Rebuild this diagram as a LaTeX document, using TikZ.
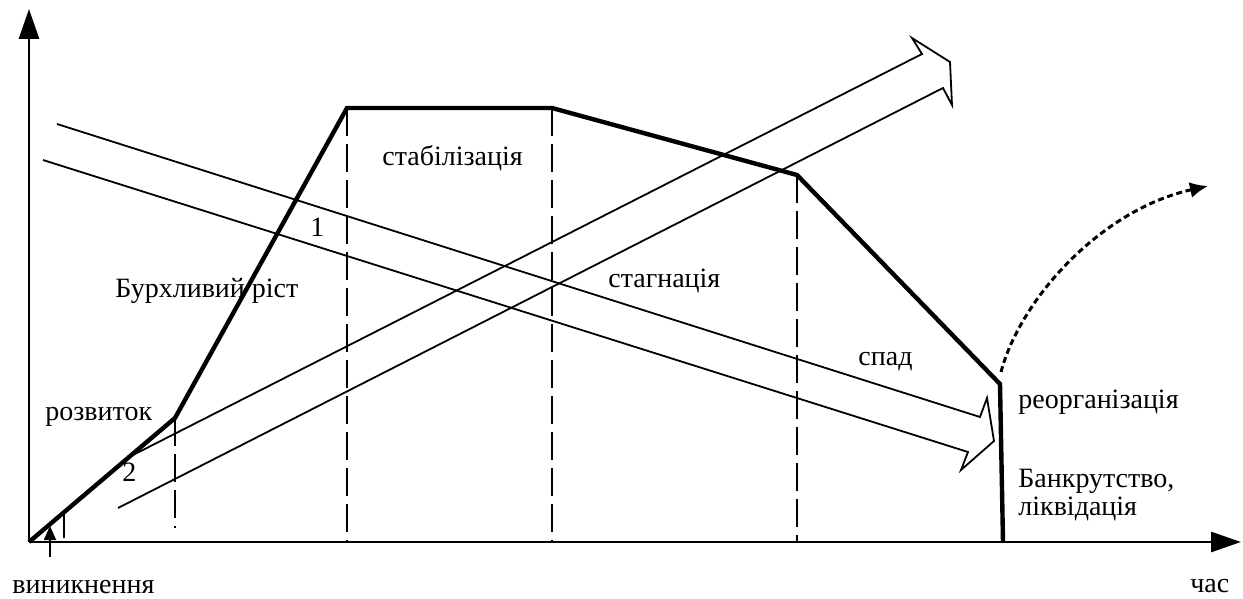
\documentclass[tikz,border=0pt]{standalone}
\usepackage{fontspec}
\setmainfont{Liberation Serif}
\usetikzlibrary{arrows.meta}
\begin{document}
\begin{tikzpicture}[x=0.5pt,y=-0.5pt,
  lifecurve/.style={line width=2.2pt, line join=miter, line cap=butt},
  axisline/.style={line width=1.4pt,-{Triangle[length=15pt,width=10pt]}},
  thinline/.style={line width=0.9pt, line join=miter},
  guide/.style={line width=0.8pt, dash pattern=on 14pt off 4pt},
  dotarrow/.style={line width=1.5pt, dash pattern=on 3pt off 1.8pt, -{Latex[length=9pt,width=8pt]}},
  lbl/.style={font=\fontsize{14}{16}\selectfont, anchor=base west, inner sep=0pt},
]
\useasboundingbox (0,0) rectangle (1243,599);
% axes
\coordinate (O) at (29,542);
\coordinate (Ytop) at (29,9);
\coordinate (Xend) at (1241,542);
\draw[axisline] (O) -- (Ytop);
\draw[axisline] (O) -- (Xend);
% curve vertices
\coordinate (A) at (175,418);
\coordinate (B) at (347,108);
\coordinate (C) at (552,108);
\coordinate (D) at (797,175);
\coordinate (E) at (1000,384);
\coordinate (F) at (1003,542);
% dashed guides
\coordinate (g0t) at (64,512);
\coordinate (g0b) at (64,538);
\draw[guide] (g0t) -- (g0b);
\coordinate (gAb) at (175,528);
\draw[guide] (A) -- (gAb);
\draw[guide] (B) -- (B |- O);
\draw[guide] (C) -- (C |- O);
\draw[guide] (D) -- (D |- O);
% rising hollow arrow
\coordinate (r1) at (118,508);
\coordinate (r2) at (943,88);
\coordinate (r3) at (952,105);
\coordinate (r4) at (950,62);
\coordinate (r5) at (912,38);
\coordinate (r6) at (922,54);
\coordinate (r7) at (133,455);
\draw[thinline] (r1) -- (r2) -- (r3) -- (r4) -- (r5) -- (r6) -- (r7);
% descending hollow arrow
\coordinate (d1) at (57,124);
\coordinate (d2) at (980,417);
\coordinate (d3) at (987,398);
\coordinate (d4) at (994,441);
\coordinate (d5) at (961,470);
\coordinate (d6) at (968,452);
\coordinate (d7) at (43,160);
\draw[thinline] (d1) -- (d2) -- (d3) -- (d4) -- (d5) -- (d6) -- (d7);
% life-cycle curve
\draw[lifecurve] (O) -- (A) -- (B) -- (C) -- (D) -- (E) -- (F);
% dotted reorganisation arrow
\coordinate (q0) at (1001,372);
\coordinate (q1) at (1208,186);
\draw[dotarrow] (q0) .. controls (1020,300) and (1100,210) .. (q1);
% emergence arrow
\coordinate (v0) at (50,557);
\coordinate (v1) at (50,526);
\draw[line width=1pt,-{Triangle[length=7pt,width=6pt]}] (v0) -- (v1);
% labels
\node[lbl] (t1) at (45,420) {розвиток};
\node[lbl] (t2) at (122,481) {2};
\node[lbl] (t3) at (310,236) {1};
\node[lbl] (t4) at (115,297) {Бурхливий ріст};
\node[lbl] (t5) at (382,166) {стабілізація};
\node[lbl] (t6) at (608,287) {стагнація};
\node[lbl] (t7) at (858,365) {спад};
\node[lbl] (t8) at (1018,408) {реорганізація};
\node[lbl] (t9) at (1018,487) {Банкрутство,};
\node[lbl] (t10) at (1018,515) {ліквідація};
\node[lbl] (t11) at (12,593) {виникнення};
\node[lbl] (t12) at (1190,592) {час};
\end{tikzpicture}
\end{document}
